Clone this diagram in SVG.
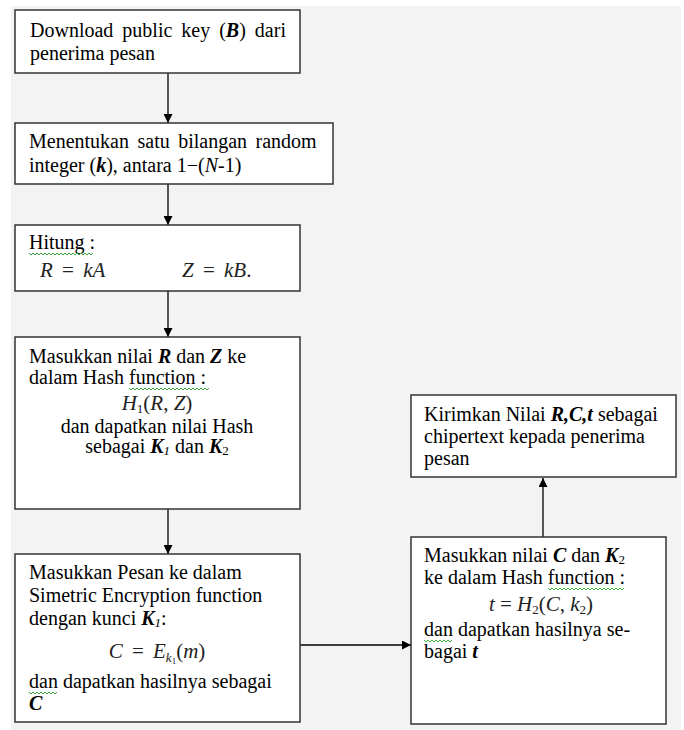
<svg xmlns="http://www.w3.org/2000/svg" width="684" height="730" viewBox="0 0 684 730">
<defs>
<style>
.bg{fill:#f3f3f3}
.box{fill:#fff;stroke:#333;stroke-width:1.5}
.t{font-family:"Liberation Serif","Times New Roman",serif;font-size:20px;fill:#000}
.m{font-family:"Liberation Serif","Times New Roman",serif;font-size:21px;fill:#222;font-style:italic}
.ws{word-spacing:4px}
.bi{font-weight:bold;font-style:italic}
.i{font-style:italic}
.n{font-style:normal}
.c{text-anchor:middle}
.conn{stroke:#000;stroke-width:1.3;fill:none}
.wave{stroke:#3aa63a;stroke-width:1;fill:none}
</style>
<marker id="ah" markerWidth="9" markerHeight="9" refX="9" refY="4.5" orient="auto" markerUnits="userSpaceOnUse">
<path d="M0,0 L9,4.5 L0,9 z" fill="#000"/>
</marker>
</defs>
<rect x="0" y="0" width="684" height="730" fill="#fff"/>
<rect class="bg" x="11" y="6" width="670" height="724"/>

<g id="connectors">
<line class="conn" x1="168" y1="73" x2="168" y2="123" marker-end="url(#ah)"/>
<line class="conn" x1="168" y1="184" x2="168" y2="225" marker-end="url(#ah)"/>
<line class="conn" x1="168" y1="291" x2="168" y2="337" marker-end="url(#ah)"/>
<line class="conn" x1="168" y1="509" x2="168" y2="554" marker-end="url(#ah)"/>
<line class="conn" x1="300" y1="645" x2="411" y2="645" marker-end="url(#ah)"/>
<line class="conn" x1="543" y1="537" x2="543" y2="478" marker-end="url(#ah)"/>
</g>

<g id="node1">
<rect class="box" x="15" y="10" width="285" height="63"/>
<text class="t" x="30" y="37" word-spacing="4">Download public key (<tspan class="bi">B</tspan>) dari</text>
<text class="t" x="30" y="60">penerima pesan</text>
</g>

<g id="node2">
<rect class="box" x="15" y="123" width="318" height="61"/>
<text class="t" x="29" y="148" word-spacing="3.5">Menentukan satu bilangan random</text>
<text class="t" x="29" y="172">integer (<tspan class="bi">k</tspan>), antara 1−(<tspan class="i">N</tspan>-1)</text>
</g>

<g id="node3">
<rect class="box" x="15" y="225" width="285" height="66"/>
<text class="t" x="29" y="249">Hitung :</text>
<path class="wave" d="M29,253 l2,2 l2,-2 l2,2 l2,-2 l2,2 l2,-2 l2,2 l2,-2 l2,2 l2,-2 l2,2 l2,-2 l2,2 l2,-2 l2,2 l2,-2 l2,2 l2,-2 l2,2 l2,-2 l2,2 l2,-2 l2,2 l2,-2 l2,2 l2,-2 l2,2 l2,-2 l2,2 l2,-2 l2,2 l2,-2"/>
<text class="m ws" x="40" y="277">R <tspan class="n">=</tspan> kA</text>
<text class="m ws" x="182" y="277">Z <tspan class="n">=</tspan> kB<tspan class="n">.</tspan></text>
</g>

<g id="node4">
<rect class="box" x="15" y="337" width="285" height="172"/>
<text class="t" x="29" y="363">Masukkan nilai <tspan class="bi">R</tspan> dan <tspan class="bi">Z</tspan> ke</text>
<text class="t" x="29" y="384">dalam Hash function :</text>
<path class="wave" d="M129,388 l2,2 l2,-2 l2,2 l2,-2 l2,2 l2,-2 l2,2 l2,-2 l2,2 l2,-2 l2,2 l2,-2 l2,2 l2,-2 l2,2 l2,-2 l2,2 l2,-2 l2,2 l2,-2 l2,2 l2,-2 l2,2 l2,-2 l2,2 l2,-2 l2,2 l2,-2 l2,2 l2,-2 l2,2 l2,-2 l2,2 l2,-2 l2,2 l2,-2 l2,2 l2,-2 l2,2 l2,-2"/>
<text class="m c" x="157" y="410" font-size="20">H<tspan class="n" font-size="13" dy="3">1</tspan><tspan class="n" dy="-3">(</tspan>R<tspan class="n">, </tspan>Z<tspan class="n">)</tspan></text>
<text class="t c" x="157" y="433">dan dapatkan nilai Hash</text>
<text class="t c" x="157" y="453">sebagai <tspan class="bi">K</tspan><tspan class="i" font-size="13" dy="2">1</tspan><tspan dy="-2"> dan </tspan><tspan class="bi">K</tspan><tspan font-size="13" dy="2">2</tspan></text>
</g>

<g id="node5">
<rect class="box" x="15" y="554" width="285" height="168"/>
<text class="t" x="29" y="579">Masukkan Pesan ke dalam</text>
<text class="t" x="29" y="602">Simetric Encryption function</text>
<text class="t" x="29" y="625">dengan kunci <tspan class="bi">K</tspan><tspan class="i" font-size="13" dy="2">1</tspan><tspan dy="-2">:</tspan></text>
<text class="m c ws" x="157" y="658">C <tspan class="n">=</tspan> E<tspan font-size="13" dy="4">k</tspan><tspan class="n" font-size="9" dy="2">1</tspan><tspan class="n" dy="-6">(</tspan>m<tspan class="n">)</tspan></text>
<text class="t" x="29" y="688">dan dapatkan hasilnya sebagai</text>
<path class="wave" d="M29,692 l2,2 l2,-2 l2,2 l2,-2 l2,2 l2,-2 l2,2 l2,-2 l2,2 l2,-2 l2,2 l2,-2 l2,2 l2,-2"/>
<text class="t" x="29" y="710"><tspan class="bi">C</tspan></text>
</g>

<g id="node6">
<rect class="box" x="411" y="537" width="255" height="187"/>
<text class="t" x="424" y="562">Masukkan nilai <tspan class="bi">C</tspan> dan <tspan class="bi">K</tspan><tspan font-size="13" dy="2">2</tspan></text>
<text class="t" x="424" y="584">ke dalam Hash function :</text>
<path class="wave" d="M548,588 l2,2 l2,-2 l2,2 l2,-2 l2,2 l2,-2 l2,2 l2,-2 l2,2 l2,-2 l2,2 l2,-2 l2,2 l2,-2 l2,2 l2,-2 l2,2 l2,-2 l2,2 l2,-2 l2,2 l2,-2 l2,2 l2,-2 l2,2 l2,-2 l2,2 l2,-2 l2,2 l2,-2 l2,2 l2,-2 l2,2 l2,-2 l2,2 l2,-2 l2,2 l2,-2"/>
<text class="m c" x="541" y="611"><tspan>t </tspan><tspan class="n">= </tspan>H<tspan class="n" font-size="13" dy="3">2</tspan><tspan class="n" dy="-3">(</tspan>C<tspan class="n">, </tspan>k<tspan class="n" font-size="13" dy="3">2</tspan><tspan class="n" dy="-3">)</tspan></text>
<text class="t" x="424" y="636">dan dapatkan hasilnya se-</text>
<path class="wave" d="M424,640 l2,2 l2,-2 l2,2 l2,-2 l2,2 l2,-2 l2,2 l2,-2 l2,2 l2,-2 l2,2 l2,-2 l2,2 l2,-2"/>
<text class="t" x="424" y="658">bagai <tspan class="bi">t</tspan></text>
</g>

<g id="node7">
<rect class="box" x="411" y="395" width="265" height="82"/>
<text class="t" x="424" y="421">Kirimkan Nilai <tspan class="bi">R,C,t</tspan> sebagai</text>
<text class="t" x="424" y="443">chipertext kepada penerima</text>
<text class="t" x="424" y="465">pesan</text>
</g>
</svg>
